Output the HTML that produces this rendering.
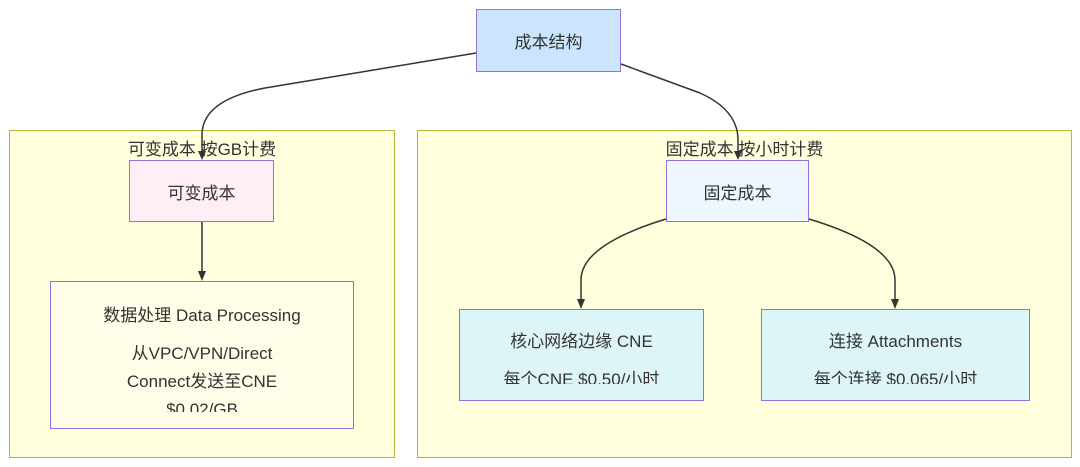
<!DOCTYPE html>
<html><head><meta charset="utf-8"><style>
body{margin:0;width:1080px;height:467px;background:#fff;position:relative;overflow:hidden;font-family:"Liberation Sans","Noto Sans CJK SC",sans-serif;color:#333}
.c{position:absolute;background:#ffffde;border:1px solid #b5b53c;box-sizing:border-box}
.ct{position:absolute;font-size:17px;text-align:center;width:100%;top:4px}
.n{position:absolute;border:1px solid #9370db;box-sizing:border-box;overflow:hidden;text-align:center;font-size:17px;display:flex;align-items:center;justify-content:center}
.b{position:absolute;border:1px solid #9370db;box-sizing:border-box;text-align:center;font-size:17px}
.clip{position:absolute;overflow:hidden;left:0;right:0}
svg{position:absolute;left:0;top:0}
</style></head><body>
<div class="c" style="left:9px;top:130px;width:386px;height:328px"><div class="ct">可变成本 按GB计费</div></div>
<div class="c" style="left:417px;top:130px;width:655px;height:328px"><div class="ct">固定成本 按小时计费</div></div>
<div class="n" style="left:476px;top:9px;width:145px;height:63px;background:#cce5ff">成本结构</div>
<div class="n" style="left:129px;top:160px;width:145px;height:62px;background:#ffeef5">可变成本</div>
<div class="n" style="left:666px;top:160px;width:143px;height:62px;background:#eef6ff">固定成本</div>
<div class="b" style="left:50px;top:281px;width:304px;height:148px;background:#fffde8">
 <div class="clip" style="top:20px;height:110px;line-height:28px">数据处理 Data Processing<div style="height:10px"></div>从VPC/VPN/Direct<br>Connect发送至CNE<br>$0.02/GB</div>
</div>
<div class="b" style="left:459px;top:309px;width:245px;height:92px;background:#def5f8">
 <div class="clip" style="top:20px;height:54px;line-height:24px">核心网络边缘 CNE<div style="height:14px"></div>每个CNE $0.50/小时</div>
</div>
<div class="b" style="left:761px;top:309px;width:269px;height:92px;background:#def5f8">
 <div class="clip" style="top:20px;height:54px;line-height:24px">连接 Attachments<div style="height:14px"></div>每个连接 $0.065/小时</div>
</div>
<svg width="1080" height="467" fill="none" stroke="#333" stroke-width="1.5">
<defs><marker id="a" markerWidth="8" markerHeight="8" refX="4" refY="7" orient="auto" markerUnits="userSpaceOnUse"><path d="M0,0 L8,0 L4,8z" fill="#333" stroke="none" transform="rotate(0)"/></marker></defs>
<path d="M476,53 L265,88 Q202,100 202,135 L202,152"/>
<path d="M198,151 L206,151 L202,160z" fill="#333" stroke="none"/>
<path d="M621,64 L700,93 Q738,110 738,140 L738,152"/>
<path d="M734,151 L742,151 L738,160z" fill="#333" stroke="none"/>
<path d="M202,222 L202,272"/>
<path d="M198,271 L206,271 L202,281z" fill="#333" stroke="none"/>
<path d="M666,219 Q581,245 581,280 L581,300"/>
<path d="M577,299 L585,299 L581,309z" fill="#333" stroke="none"/>
<path d="M809,219 Q895,245 895,280 L895,300"/>
<path d="M891,299 L899,299 L895,309z" fill="#333" stroke="none"/>
</svg>
</body></html>
